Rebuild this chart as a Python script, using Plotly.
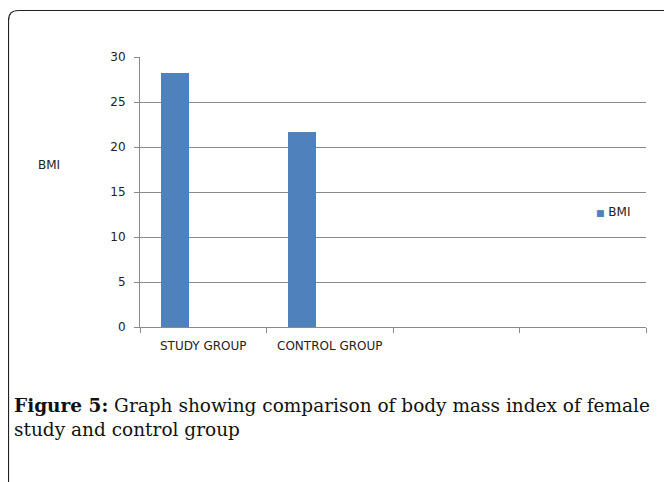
import plotly.graph_objects as go

categories = ["STUDY GROUP", "CONTROL GROUP", " ", "  "]
bmi_values = [28.2, 21.7]
y_ticks = [0, 5, 10, 15, 20, 25, 30]
series_name = "BMI"
caption_bold = "Figure 5:"
caption_text = " Graph showing comparison of body mass index of female<br>study and control group"

# page body has an 8px margin, so the figure is drawn 8px smaller and
# positions below are given in screenshot pixels, shifted by OFF
OFF = 8
W, H = 672 - OFF, 482 - OFF
L, R, T, B = 140 - OFF, 26, 57 - OFF, 155
pw, ph = W - L - R, H - T - B

def px(x):
    return (x - OFF - L) / pw

def py(y):
    return (H - B - (y - OFF)) / ph

BAR = "#4F81BD"
GRID = "#8a8a8a"

fig = go.Figure()
fig.add_trace(go.Bar(
    x=categories[:2], y=bmi_values, name=series_name,
    marker=dict(color=BAR, line=dict(width=0)),
    width=0.224, offset=-0.334, showlegend=False,
))

r = 10
left, top, right, bottom = 8.5, 10.5, 700, 510
path = (f"M {px(left)},{py(bottom)} L {px(left)},{py(top + r)} "
        f"Q {px(left)},{py(top)} {px(left + r)},{py(top)} L {px(right)},{py(top)}")

fig.update_layout(
    width=W, height=H,
    margin=dict(l=L, r=R, t=T, b=B),
    paper_bgcolor="white", plot_bgcolor="white",
    font=dict(family="DejaVu Sans", size=12, color="#222"),
    bargap=0, showlegend=False,
    xaxis=dict(
        type="category", categoryorder="array", categoryarray=categories,
        range=[-0.5, 3.5], tickson="boundaries", ticks="outside", ticklen=5,
        tickcolor=GRID, showline=True, linecolor=GRID, linewidth=1,
        showgrid=False, tickfont=dict(size=12, family="DejaVu Sans", color="#222"),
        ticklabelstandoff=8, fixedrange=True,
    ),
    yaxis=dict(
        range=[0, 30], tickvals=y_ticks, ticks="outside", ticklen=5, tickcolor=GRID,
        showgrid=True, gridcolor=GRID, gridwidth=1, showline=True, linecolor=GRID,
        zeroline=False, tickfont=dict(size=12, family="DejaVu Sans", color="#222"),
        ticklabelstandoff=6,
    ),
    shapes=[dict(type="path", xref="paper", yref="paper", path=path,
                 line=dict(color="#222", width=1.2))],
    annotations=[
        dict(text="BMI", xref="paper", yref="paper", x=px(36), y=py(165),
             xanchor="left", yanchor="middle", showarrow=False,
             font=dict(size=12, family="DejaVu Sans", color="#222")),
        dict(text=f"<span style='color:{BAR};font-size:9px'>■</span> {series_name}",
             xref="paper", yref="paper", x=px(594), y=py(212),
             xanchor="left", yanchor="middle", showarrow=False,
             font=dict(size=12, family="DejaVu Sans", color="#222")),
        dict(text=f"<b>{caption_bold}</b>{caption_text}", xref="paper", yref="paper",
             x=px(12), y=py(393), xanchor="left", yanchor="top", align="left",
             showarrow=False,
             font=dict(size=18.5, family="DejaVu Serif", color="#111")),
    ],
)

fig.write_html("out.html")
